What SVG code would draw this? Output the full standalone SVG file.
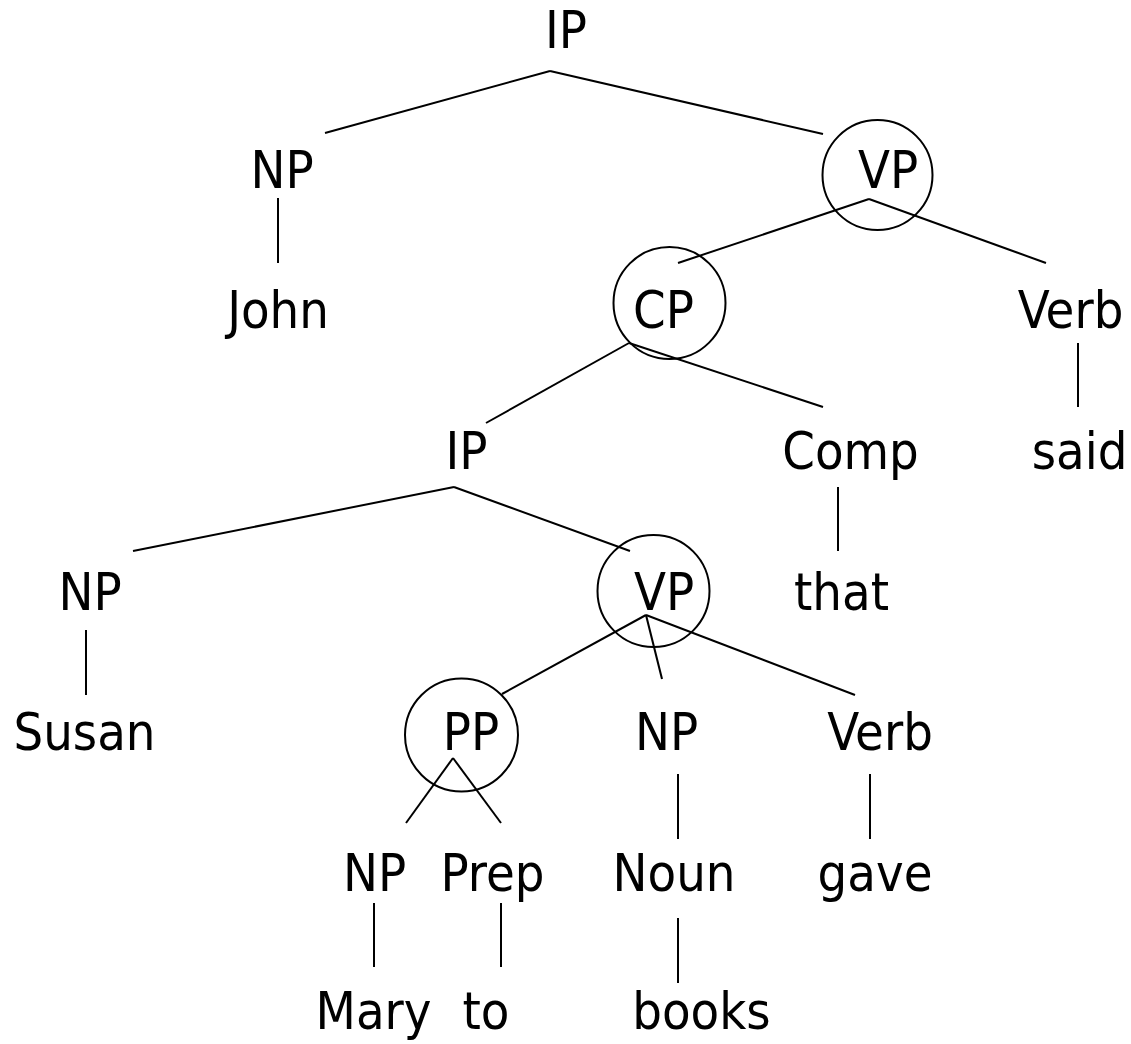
<svg xmlns="http://www.w3.org/2000/svg" width="1131" height="1044" viewBox="0 0 1131 1044">
<style>
text{font-family:"DejaVu Sans Condensed","DejaVu Sans",sans-serif;font-stretch:condensed;font-size:52px;fill:#000;text-anchor:middle}
line{stroke:#000;stroke-width:2;stroke-linecap:butt}
circle{fill:none;stroke:#000;stroke-width:2}
</style>
<rect width="1131" height="1044" fill="#fff"/>
<g id="connectors">
<line x1="550" y1="71" x2="325" y2="133"/>
<line x1="550" y1="71" x2="823" y2="134"/>
<line x1="278" y1="198" x2="278" y2="263"/>
<line x1="869" y1="199" x2="678" y2="263"/>
<line x1="869" y1="199" x2="1046" y2="263"/>
<line x1="629" y1="343" x2="486" y2="423"/>
<line x1="629" y1="343" x2="823" y2="407"/>
<line x1="1078" y1="343" x2="1078" y2="407"/>
<line x1="454" y1="487" x2="133" y2="551"/>
<line x1="454" y1="487" x2="630" y2="551"/>
<line x1="838" y1="487" x2="838" y2="551"/>
<line x1="86" y1="630" x2="86" y2="695"/>
<line x1="646" y1="615" x2="502" y2="694"/>
<line x1="646" y1="615" x2="662" y2="679"/>
<line x1="646" y1="615" x2="855" y2="695"/>
<line x1="453" y1="758" x2="406" y2="823"/>
<line x1="453" y1="758" x2="501" y2="823"/>
<line x1="678" y1="774" x2="678" y2="839"/>
<line x1="870" y1="774" x2="870" y2="839"/>
<line x1="374" y1="903" x2="374" y2="967"/>
<line x1="501" y1="903" x2="501" y2="967"/>
<line x1="678" y1="918" x2="678" y2="983"/>
</g>
<g id="ip-root"><text x="566" y="48">IP</text></g>
<g id="np-john"><text x="282" y="188">NP</text></g>
<g id="vp-main"><circle cx="877.5" cy="175" r="55"/><text x="888" y="188">VP</text></g>
<g id="john"><text x="278" y="328">John</text></g>
<g id="cp"><circle cx="669.5" cy="303" r="56"/><text x="663.5" y="328">CP</text></g>
<g id="verb-said"><text x="1070.5" y="328">Verb</text></g>
<g id="ip-sub"><text x="466.5" y="469">IP</text></g>
<g id="comp"><text x="850.5" y="469">Comp</text></g>
<g id="said"><text x="1079.5" y="469">said</text></g>
<g id="np-susan"><text x="90" y="610">NP</text></g>
<g id="vp-sub"><circle cx="653.5" cy="591" r="56"/><text x="664" y="610">VP</text></g>
<g id="that"><text x="841.5" y="610">that</text></g>
<g id="susan"><text x="84.5" y="750">Susan</text></g>
<g id="pp"><circle cx="461.5" cy="735" r="56.5"/><text x="471" y="750">PP</text></g>
<g id="np-books"><text x="666.5" y="750">NP</text></g>
<g id="verb-gave"><text x="880" y="750">Verb</text></g>
<g id="np-mary"><text x="374.5" y="891">NP</text></g>
<g id="prep"><text x="492.5" y="891">Prep</text></g>
<g id="noun"><text x="674" y="891">Noun</text></g>
<g id="gave"><text x="875" y="891">gave</text></g>
<g id="mary"><text x="373.5" y="1029">Mary</text></g>
<g id="to"><text x="486" y="1029">to</text></g>
<g id="books"><text x="701.5" y="1029">books</text></g>
</svg>
